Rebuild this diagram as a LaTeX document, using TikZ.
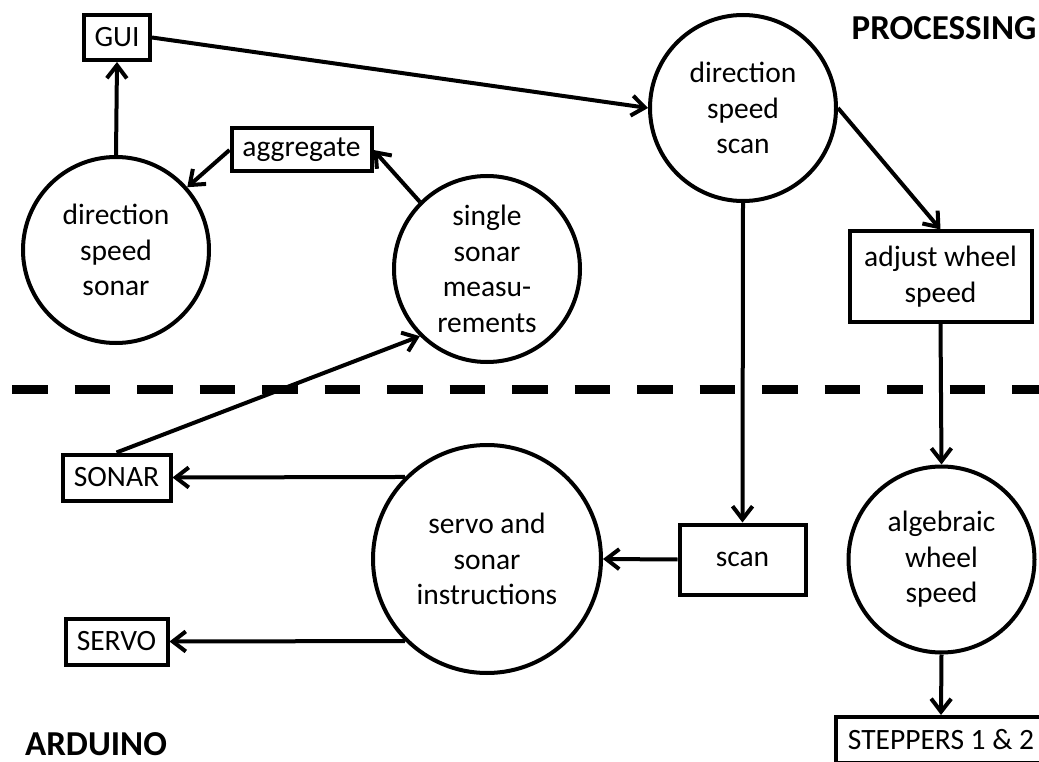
\documentclass[tikz,border=0pt]{standalone}
\usepackage{fontspec}
\setmainfont{Carlito}
\usetikzlibrary{arrows.meta}
\begin{document}
\begin{tikzpicture}[x=1pt,y=-1pt, line width=4pt,
  txt/.style={font=\fontsize{29.5}{35.5}\selectfont},
  box/.style={txt, draw, rectangle, inner sep=0pt, align=center},
  bub/.style={txt, draw, circle, inner sep=0pt, minimum size=186pt, align=center},
  arr/.style={-{Straight Barb[length=13pt,width=20pt]}, line width=4pt},
  lab/.style={font=\fontsize{35}{40}\selectfont\bfseries, inner sep=0pt}]
\useasboundingbox (0,0) rectangle (1039,762);
% divider
\draw[line width=9pt, dash pattern=on 35.5pt off 27pt] (12,389) -- (1039,389);
% boxes
\node[box, minimum width=66pt, minimum height=45pt] (gui) at (117,37.5) {GUI};
\node[box, minimum width=140pt, minimum height=43pt] (agg) at (301.5,150) {aggregate};
\node[box, minimum width=108pt, minimum height=46pt] (sonarbox) at (116.5,477.5) {SONAR};
\node[box, minimum width=102pt, minimum height=46pt] (servobox) at (116.5,641.5) {SERVO};
\node[box, minimum width=126pt, minimum height=70pt] (scan) at (742.5,559.5) {scan};
\node[box, minimum width=182pt, minimum height=90pt] (adjust) at (940.5,276.5) {adjust wheel\\speed};
\node[box, minimum width=210pt, minimum height=46pt] (steppers) at (941,740) {STEPPERS 1 \& 2};
% circles
\node[bub] (dsonar) at (116,250) {direction\\speed\\sonar};
\node[bub] (ssm) at (487,269) {single\\sonar\\measu-\\rements};
\node[bub] (dss) at (743,108) {direction\\speed\\scan};
\node[bub] (alg) at (941.5,559.5) {algebraic\\wheel\\speed};
\node[bub, minimum size=228pt] (servo) at (487,559) {servo and\\sonar\\instructions};
% labels
\node[lab] (proc) at (944,28) {PROCESSING};
\node[lab] (ard) at (96,744) {ARDUINO};
% connectors
\draw[arr] (dsonar.north) -- (gui.south);
\draw[arr] (gui.east) -- (dss.west);
\draw[arr] (agg.west) -- (dsonar);
\draw[arr] (ssm.135) -- (agg.east);
\draw[arr] (sonarbox.north) -- (ssm.225);
\draw[arr] (dss.east) -- (adjust.north);
\draw[arr] (dss.south) -- (scan.north);
\draw[arr] (adjust.south) -- (alg.north);
\draw[arr] (alg.south) -- (steppers.north);
\draw[arr] (scan.west) -- (servo.east);
\draw[arr] (servo.135) -- (sonarbox.east);
\draw[arr] (servo.225) -- (servobox.east);
\end{tikzpicture}
\end{document}
